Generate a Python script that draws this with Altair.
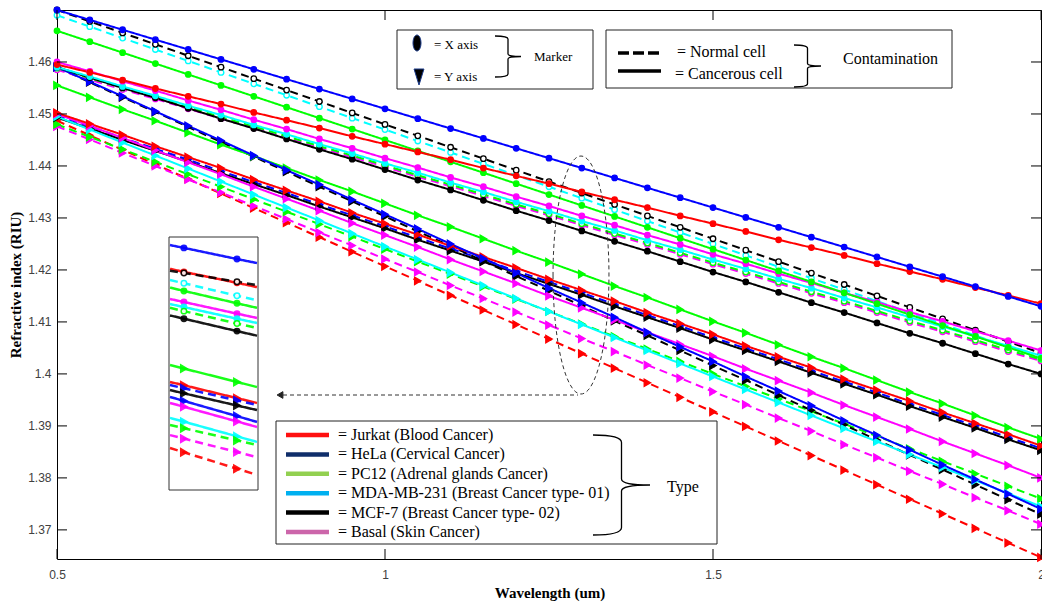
import altair as alt
import pandas as pd

# ---------------- data ----------------
wavelength = [0.5, 0.55, 0.6, 0.65, 0.7, 0.75, 0.8, 0.85, 0.9, 0.95, 1.0, 1.05, 1.1, 1.15, 1.2, 1.25,
              1.3, 1.35, 1.4, 1.45, 1.5, 1.55, 1.6, 1.65, 1.7, 1.75, 1.8, 1.85, 1.9, 1.95, 2.0]

# X-axis (circle markers)
hela_cancer_x = [1.4700, 1.4681, 1.4662, 1.4643, 1.4624, 1.4605, 1.4586, 1.4567, 1.4548, 1.4529, 1.4510,
                 1.4491, 1.4472, 1.4453, 1.4434, 1.4415, 1.4396, 1.4377, 1.4358, 1.4339, 1.4320, 1.4301,
                 1.4282, 1.4263, 1.4244, 1.4225, 1.4206, 1.4187, 1.4168, 1.4149, 1.4130]
mcf7_normal_x = [1.4700, 1.4678, 1.4656, 1.4634, 1.4612, 1.4590, 1.4568, 1.4546, 1.4524, 1.4502, 1.4480,
                 1.4458, 1.4436, 1.4414, 1.4392, 1.4370, 1.4348, 1.4326, 1.4304, 1.4282, 1.4260, 1.4238,
                 1.4216, 1.4194, 1.4172, 1.4150, 1.4128, 1.4106, 1.4084, 1.4062, 1.4040]
mda_normal_x = [1.4690, 1.4668, 1.4646, 1.4624, 1.4602, 1.4580, 1.4558, 1.4536, 1.4514, 1.4492, 1.4470,
                1.4448, 1.4426, 1.4404, 1.4382, 1.4360, 1.4338, 1.4316, 1.4294, 1.4272, 1.4250, 1.4228,
                1.4206, 1.4184, 1.4162, 1.4140, 1.4118, 1.4096, 1.4074, 1.4052, 1.4030]
pc12_cancer_x = [1.4660, 1.4639, 1.4618, 1.4597, 1.4576, 1.4555, 1.4534, 1.4513, 1.4492, 1.4471, 1.4450,
                 1.4429, 1.4408, 1.4387, 1.4366, 1.4345, 1.4324, 1.4303, 1.4282, 1.4261, 1.4240, 1.4219,
                 1.4198, 1.4177, 1.4156, 1.4135, 1.4114, 1.4093, 1.4072, 1.4051, 1.4030]
jurkat_cancer_x = [1.4595, 1.4580, 1.4565, 1.4549, 1.4534, 1.4519, 1.4503, 1.4488, 1.4473, 1.4457, 1.4442,
                   1.4427, 1.4412, 1.4396, 1.4381, 1.4366, 1.4350, 1.4335, 1.4320, 1.4304, 1.4289, 1.4274,
                   1.4258, 1.4243, 1.4228, 1.4212, 1.4197, 1.4182, 1.4166, 1.4151, 1.4135]
basal_cancer_x = [1.4600, 1.4582, 1.4563, 1.4545, 1.4526, 1.4508, 1.4489, 1.4471, 1.4452, 1.4434, 1.4415,
                  1.4397, 1.4378, 1.4360, 1.4341, 1.4323, 1.4304, 1.4286, 1.4267, 1.4249, 1.4230, 1.4212,
                  1.4193, 1.4175, 1.4156, 1.4138, 1.4119, 1.4101, 1.4082, 1.4064, 1.4045]
mda_cancer_x = [1.4590, 1.4572, 1.4553, 1.4535, 1.4516, 1.4498, 1.4479, 1.4461, 1.4442, 1.4424, 1.4405,
                1.4387, 1.4368, 1.4350, 1.4331, 1.4313, 1.4294, 1.4276, 1.4257, 1.4239, 1.4220, 1.4202,
                1.4183, 1.4165, 1.4146, 1.4128, 1.4109, 1.4091, 1.4072, 1.4054, 1.4035]
pc12_normal_x = [1.4588, 1.4569, 1.4550, 1.4532, 1.4513, 1.4494, 1.4476, 1.4457, 1.4438, 1.4420, 1.4401,
                 1.4382, 1.4364, 1.4345, 1.4326, 1.4308, 1.4289, 1.4270, 1.4252, 1.4233, 1.4214, 1.4196,
                 1.4177, 1.4158, 1.4140, 1.4121, 1.4102, 1.4084, 1.4065, 1.4046, 1.4028]
basal_normal_x = [1.4585, 1.4566, 1.4547, 1.4529, 1.4510, 1.4491, 1.4473, 1.4454, 1.4435, 1.4417, 1.4398,
                  1.4379, 1.4361, 1.4342, 1.4323, 1.4305, 1.4286, 1.4267, 1.4249, 1.4230, 1.4211, 1.4193,
                  1.4174, 1.4155, 1.4137, 1.4118, 1.4099, 1.4081, 1.4062, 1.4043, 1.4025]
mcf7_cancer_x = [1.4590, 1.4570, 1.4550, 1.4531, 1.4511, 1.4491, 1.4472, 1.4452, 1.4432, 1.4413, 1.4393,
                 1.4373, 1.4354, 1.4334, 1.4314, 1.4295, 1.4275, 1.4255, 1.4236, 1.4216, 1.4196, 1.4177,
                 1.4157, 1.4137, 1.4118, 1.4098, 1.4078, 1.4059, 1.4039, 1.4019, 1.4000]

# Y-axis (triangle markers)
hela_cancer_y = [1.4590, 1.4562, 1.4534, 1.4505, 1.4477, 1.4449, 1.4420, 1.4392, 1.4364, 1.4335, 1.4307,
                 1.4279, 1.4250, 1.4222, 1.4194, 1.4165, 1.4137, 1.4109, 1.4080, 1.4052, 1.4024, 1.3995,
                 1.3967, 1.3939, 1.3910, 1.3882, 1.3854, 1.3825, 1.3797, 1.3769, 1.3740]
mcf7_normal_y = [1.4590, 1.4561, 1.4532, 1.4504, 1.4475, 1.4446, 1.4418, 1.4389, 1.4360, 1.4332, 1.4303,
                 1.4274, 1.4246, 1.4217, 1.4188, 1.4160, 1.4131, 1.4102, 1.4074, 1.4045, 1.4016, 1.3988,
                 1.3959, 1.3930, 1.3902, 1.3873, 1.3844, 1.3816, 1.3787, 1.3758, 1.3730]
mda_cancer_y = [1.4495, 1.4470, 1.4445, 1.4420, 1.4395, 1.4370, 1.4345, 1.4320, 1.4295, 1.4270, 1.4245,
                1.4220, 1.4195, 1.4170, 1.4145, 1.4120, 1.4095, 1.4070, 1.4045, 1.4020, 1.3995, 1.3970,
                1.3945, 1.3920, 1.3895, 1.3870, 1.3845, 1.3820, 1.3795, 1.3770, 1.3745]
pc12_cancer_y = [1.4555, 1.4532, 1.4509, 1.4487, 1.4464, 1.4441, 1.4419, 1.4396, 1.4373, 1.4351, 1.4328,
                 1.4305, 1.4283, 1.4260, 1.4237, 1.4215, 1.4192, 1.4169, 1.4147, 1.4124, 1.4101, 1.4079,
                 1.4056, 1.4033, 1.4011, 1.3988, 1.3965, 1.3943, 1.3920, 1.3897, 1.3875]
jurkat_cancer_y = [1.4502, 1.4481, 1.4460, 1.4438, 1.4417, 1.4396, 1.4374, 1.4353, 1.4332, 1.4310, 1.4289,
                   1.4268, 1.4246, 1.4225, 1.4204, 1.4182, 1.4161, 1.4140, 1.4118, 1.4097, 1.4076, 1.4054,
                   1.4033, 1.4012, 1.3990, 1.3969, 1.3948, 1.3926, 1.3905, 1.3884, 1.3862]
basal_cancer_y = [1.4500, 1.4477, 1.4454, 1.4430, 1.4407, 1.4384, 1.4360, 1.4337, 1.4314, 1.4290, 1.4267,
                  1.4244, 1.4220, 1.4197, 1.4174, 1.4150, 1.4127, 1.4104, 1.4080, 1.4057, 1.4034, 1.4010,
                  1.3987, 1.3964, 1.3940, 1.3917, 1.3894, 1.3870, 1.3847, 1.3824, 1.3800]
mcf7_cancer_y = [1.4493, 1.4472, 1.4450, 1.4429, 1.4408, 1.4386, 1.4365, 1.4344, 1.4322, 1.4301, 1.4280,
                 1.4258, 1.4237, 1.4216, 1.4194, 1.4173, 1.4152, 1.4130, 1.4109, 1.4088, 1.4066, 1.4045,
                 1.4024, 1.4002, 1.3981, 1.3960, 1.3938, 1.3917, 1.3896, 1.3874, 1.3853]
hela_normal_y = [1.4497, 1.4476, 1.4454, 1.4433, 1.4412, 1.4390, 1.4369, 1.4348, 1.4326, 1.4305, 1.4284,
                 1.4262, 1.4241, 1.4220, 1.4198, 1.4177, 1.4156, 1.4134, 1.4113, 1.4092, 1.4070, 1.4049,
                 1.4028, 1.4006, 1.3985, 1.3964, 1.3942, 1.3921, 1.3900, 1.3878, 1.3857]
pc12_normal_y = [1.4480, 1.4456, 1.4432, 1.4408, 1.4384, 1.4360, 1.4336, 1.4312, 1.4288, 1.4264, 1.4240,
                 1.4216, 1.4192, 1.4168, 1.4144, 1.4120, 1.4096, 1.4072, 1.4048, 1.4024, 1.4000, 1.3976,
                 1.3952, 1.3928, 1.3904, 1.3880, 1.3856, 1.3832, 1.3808, 1.3784, 1.3760]
basal_normal_y = [1.4476, 1.4451, 1.4425, 1.4400, 1.4374, 1.4349, 1.4323, 1.4298, 1.4272, 1.4247, 1.4221,
                  1.4196, 1.4170, 1.4145, 1.4119, 1.4094, 1.4068, 1.4043, 1.4017, 1.3992, 1.3966, 1.3941,
                  1.3915, 1.3890, 1.3864, 1.3839, 1.3813, 1.3788, 1.3762, 1.3737, 1.3711]
jurkat_normal_y = [1.4487, 1.4459, 1.4431, 1.4403, 1.4375, 1.4347, 1.4319, 1.4291, 1.4263, 1.4235, 1.4207,
                   1.4179, 1.4151, 1.4123, 1.4095, 1.4067, 1.4039, 1.4011, 1.3983, 1.3955, 1.3927, 1.3899,
                   1.3871, 1.3843, 1.3815, 1.3787, 1.3759, 1.3731, 1.3703, 1.3675, 1.3647]

x_ticks = [0.5, 1.0, 1.5, 2.0]
y_ticks = [1.37, 1.38, 1.39, 1.40, 1.41, 1.42, 1.43, 1.44, 1.45, 1.46]

# inset (magnified view) : relative positions inside the inset frame
inset_x = [0.0, 0.16, 0.77, 1.0]
inset_lines = [
    ("HeLa cancer X", [0.032, 0.043, 0.087, 0.103]),
    ("Jurkat cancer X", [0.126, 0.138, 0.181, 0.198]),
    ("MCF-7 normal X", [0.133, 0.142, 0.177, 0.190]),
    ("MDA normal X", [0.170, 0.183, 0.232, 0.250]),
    ("PC12 cancer X", [0.200, 0.213, 0.262, 0.280]),
    ("Basal cancer X", [0.245, 0.257, 0.303, 0.320]),
    ("MDA cancer X", [0.265, 0.277, 0.323, 0.340]),
    ("PC12 normal X", [0.280, 0.293, 0.342, 0.360]),
    ("MCF-7 cancer X", [0.310, 0.323, 0.372, 0.390]),
    ("PC12 cancer Y", [0.506, 0.520, 0.573, 0.593]),
    ("Jurkat cancer Y", [0.573, 0.586, 0.637, 0.656]),
    ("HeLa normal Y", [0.585, 0.598, 0.646, 0.664]),
    ("MCF-7 cancer Y", [0.605, 0.618, 0.666, 0.684]),
    ("HeLa cancer Y", [0.632, 0.648, 0.708, 0.731]),
    ("Basal cancer Y", [0.656, 0.671, 0.729, 0.751]),
    ("MDA cancer Y", [0.715, 0.730, 0.788, 0.810]),
    ("PC12 normal Y", [0.743, 0.756, 0.804, 0.822]),
    ("Basal normal Y", [0.783, 0.797, 0.850, 0.870]),
    ("Jurkat normal Y", [0.834, 0.851, 0.916, 0.940]),
]

type_names = ["= Jurkat (Blood Cancer)", "= HeLa (Cervical Cancer)", "= PC12 (Adrenal glands Cancer)",
              "= MDA-MB-231 (Breast Cancer type- 01)", "= MCF-7  (Breast Cancer type- 02)",
              "= Basal (Skin Cancer)"]
type_colors = ["#FF1010", "#102E6A", "#92D050", "#00B0F0", "#000000", "#CC66AA"]

RED, BLUE, GREEN, CYAN, BLACK, MAG = "#FF0000", "#0000FF", "#00FF00", "#00FFFF", "#000000", "#FF00FF"

# (name, colour, line style, marker, values) -- drawing order bottom to top
series = [
    ("Jurkat normal Y", RED, "dashed", "tri", jurkat_normal_y),
    ("Basal normal Y", MAG, "dashed", "tri", basal_normal_y),
    ("PC12 normal Y", GREEN, "dashed", "tri", pc12_normal_y),
    ("HeLa normal Y", BLUE, "dashed", "tri", hela_normal_y),
    ("MCF-7 normal Y", BLACK, "dashed", "tri", mcf7_normal_y),
    ("Basal normal X", MAG, "dashed", "circle", basal_normal_x),
    ("PC12 normal X", GREEN, "dashed", "circle", pc12_normal_x),
    ("MDA normal X", CYAN, "dashed", "circle", mda_normal_x),
    ("MCF-7 normal X", BLACK, "dashed", "circle", mcf7_normal_x),
    ("MCF-7 cancer Y", BLACK, "solid", "tri", mcf7_cancer_y),
    ("MDA cancer Y", CYAN, "solid", "tri", mda_cancer_y),
    ("Basal cancer Y", MAG, "solid", "tri", basal_cancer_y),
    ("Jurkat cancer Y", RED, "solid", "tri", jurkat_cancer_y),
    ("PC12 cancer Y", GREEN, "solid", "tri", pc12_cancer_y),
    ("HeLa cancer Y", BLUE, "solid", "tri", hela_cancer_y),
    ("MCF-7 cancer X", BLACK, "solid", "circle", mcf7_cancer_x),
    ("MDA cancer X", CYAN, "solid", "circle", mda_cancer_x),
    ("Basal cancer X", MAG, "solid", "circle", basal_cancer_x),
    ("PC12 cancer X", GREEN, "solid", "circle", pc12_cancer_x),
    ("Jurkat cancer X", RED, "solid", "circle", jurkat_cancer_x),
    ("HeLa cancer X", BLUE, "solid", "circle", hela_cancer_x),
]

rows = []
meta = {}
for k, (name, col, dash, mk, vals) in enumerate(series):
    fill = "#FFFFFF" if (dash == "dashed" and mk == "circle") else col
    meta[name] = (col, dash, mk, fill)
    for w, v in zip(wavelength, vals):
        rows.append(dict(series=name, z=f"{k:02d}", wl=w, ri=v, color=col, dash=dash, marker=mk, fill=fill))
df = pd.DataFrame(rows)

irows = []
for k, (name, vals) in enumerate(inset_lines):
    col, dash, mk, fill = meta[name]
    for j, (ix, iy) in enumerate(zip(inset_x, vals)):
        irows.append(dict(series=name, z=f"{k:02d}", ix=ix, iy=iy, color=col, dash=dash, marker=mk,
                          fill=fill, show=1 if j in (1, 2) else 0))
idf = pd.DataFrame(irows)

# ---------------- layout ----------------
W, H = 984, 549
xscale = alt.Scale(domain=[0.5, 2.0], nice=False, zero=False)
yscale = alt.Scale(domain=[1.3644, 1.4700], nice=False, zero=False)
dash_scale = alt.Scale(domain=["solid", "dashed"], range=[[1, 0], [8, 5]])
shape_scale = alt.Scale(domain=["circle", "tri"], range=["circle", "triangle-right"])
size_scale = alt.Scale(domain=["circle", "tri"], range=[30, 55])

TICKFONT = "Liberation Sans"
SERIF = "Liberation Serif"

xaxis = alt.Axis(values=x_ticks, format="~g", ticks=False, tickSize=0, domain=False, grid=False,
                 labelPadding=10, labelFont=TICKFONT, labelFontSize=12, labelColor="#404040",
                 labelFlush=False, labelOverlap=False, title=None)
yaxis = alt.Axis(values=y_ticks, format=".2~f", ticks=False, tickSize=0, domain=False, grid=False,
                 labelPadding=6, labelFont=TICKFONT, labelFontSize=12, labelColor="#404040",
                 labelFlush=False, labelOverlap=False, title=None)

lines = alt.Chart(df).mark_line(strokeWidth=2, clip=True).encode(
    x=alt.X("wl:Q", scale=xscale, axis=xaxis),
    y=alt.Y("ri:Q", scale=yscale, axis=yaxis),
    detail="z:N",
    stroke=alt.Stroke("color:N", scale=None),
    strokeDash=alt.StrokeDash("dash:N", scale=dash_scale, legend=None),
    order="wl:Q",
)

points = alt.Chart(df).mark_point(filled=True, opacity=1, strokeWidth=1.3).encode(
    x=alt.X("wl:Q", scale=xscale, axis=None),
    y=alt.Y("ri:Q", scale=yscale, axis=None),
    shape=alt.Shape("marker:N", scale=shape_scale, legend=None),
    size=alt.Size("marker:N", scale=size_scale, legend=None),
    stroke=alt.Stroke("color:N", scale=None),
    fill=alt.Fill("fill:N", scale=None),
)

xt = pd.DataFrame({"v": x_ticks})
yt = pd.DataFrame({"v": y_ticks})
tick_b = alt.Chart(xt).mark_rule(color="black", strokeWidth=1).encode(
    x=alt.X("v:Q", scale=xscale, axis=None), y=alt.value(H), y2=alt.value(H - 10))
tick_t = alt.Chart(xt).mark_rule(color="black", strokeWidth=1).encode(
    x=alt.X("v:Q", scale=xscale, axis=None), y=alt.value(0), y2=alt.value(10))
tick_l = alt.Chart(yt).mark_rule(color="black", strokeWidth=1).encode(
    y=alt.Y("v:Q", scale=yscale, axis=None), x=alt.value(0), x2=alt.value(10))
tick_r = alt.Chart(yt).mark_rule(color="black", strokeWidth=1).encode(
    y=alt.Y("v:Q", scale=yscale, axis=None), x=alt.value(W), x2=alt.value(W - 10))

one = pd.DataFrame({"a": [0]})


def box(x0, x1, y0, y1, stroke="#222222"):
    return alt.Chart(one).mark_rect(fill="white", stroke=stroke, strokeWidth=1).encode(
        x=alt.value(x0), x2=alt.value(x1), y=alt.value(y0), y2=alt.value(y1))


def text(t, x, y, size, align="left", weight="normal", angle=0, font=SERIF, color="black"):
    return alt.Chart(pd.DataFrame({"t": [t]})).mark_text(
        align=align, baseline="middle", fontSize=size, font=font, fontWeight=weight,
        angle=angle, color=color).encode(text="t:N", x=alt.value(x), y=alt.value(y))


def hline(x0, x1, y, color="black", width=3.5, dash=None):
    kw = dict(color=color, strokeWidth=width)
    if dash:
        kw["strokeDash"] = dash
    return alt.Chart(one).mark_rule(**kw).encode(x=alt.value(x0), x2=alt.value(x1), y=alt.value(y))


def symbol(path, x, y, size, fill=None, stroke="black", sw=1.2, dash=None):
    kw = dict(shape=path, size=size, stroke=stroke, strokeWidth=sw, opacity=1)
    if fill is None:
        kw["filled"] = False
    else:
        kw["filled"] = True
        kw["fill"] = fill
    if dash:
        kw["strokeDash"] = dash
    return alt.Chart(one).mark_point(**kw).encode(x=alt.value(x), y=alt.value(y))


def brace(x, y, w, h):
    a = round(w / h, 3)
    p = (f"M {-a},-1 Q 0,-1 0,-0.85 L 0,-0.12 Q 0,0 {a},0 Q 0,0 0,0.12 "
         f"L 0,0.85 Q 0,1 {-a},1")
    return symbol(p, x, y, h * h, None, "black", 1.3)


# inset
ix_scale = alt.Scale(domain=[0, 1], range=[113, 200])
iy_scale = alt.Scale(domain=[0, 1], range=[227, 480])
inset_box = box(112, 201, 227, 480, "#333333")
inset_l = alt.Chart(idf).mark_line(strokeWidth=2.5, opacity=0.9).encode(
    x=alt.X("ix:Q", scale=ix_scale, axis=None),
    y=alt.Y("iy:Q", scale=iy_scale, axis=None),
    detail="z:N",
    stroke=alt.Stroke("color:N", scale=None),
    strokeDash=alt.StrokeDash("dash:N", scale=alt.Scale(domain=["solid", "dashed"], range=[[1, 0], [10, 8]]),
                              legend=None),
    order="ix:Q",
)
inset_p = alt.Chart(idf).transform_filter("datum.show == 1").mark_point(filled=True, opacity=0.9,
                                                                         strokeWidth=1.5).encode(
    x=alt.X("ix:Q", scale=ix_scale, axis=None),
    y=alt.Y("iy:Q", scale=iy_scale, axis=None),
    shape=alt.Shape("marker:N", scale=shape_scale, legend=None),
    size=alt.Size("marker:N", scale=alt.Scale(domain=["circle", "tri"], range=[60, 110]), legend=None),
    stroke=alt.Stroke("color:N", scale=None),
    fill=alt.Fill("fill:N", scale=None),
)

# dashed ellipse + arrow
ell = symbol("M -0.235,0 A 0.235,1 0 1,0 0.235,0 A 0.235,1 0 1,0 -0.235,0 Z", 524, 265, 238 * 238,
             None, "#333333", 1, [4, 3])
arrow_line = hline(226, 521, 385, "#333333", 1, [4, 3])
arrow_head = symbol("triangle-left", 223, 385, 45, "#222222", "#222222", 1)

# legends
marker_box = box(340, 536, 20, 79)
mk_ell = symbol("M -0.5,0 A 0.5,1 0 1,0 0.5,0 A 0.5,1 0 1,0 -0.5,0 Z", 360, 33, 256, "black", "#1a3a8a", 1)
mk_tri = symbol("M -0.62,-1 L 0.62,-1 L 0,1 Z", 362, 67, 256, "black", "#1a3a8a", 1)
mk_t1 = text("= X axis", 377, 35, 13)
mk_t2 = text("=  Y axis", 377, 67, 13)
mk_br = brace(451, 46.5, 26, 41)
mk_lab = text("Marker", 477, 47, 13)

cont_box = box(549, 895, 20, 78)
c_dash = hline(561, 604, 43, "black", 3.5, [11, 4])
c_solid = hline(561, 604, 61, "black", 3.5)
c_t1 = text("= Normal cell", 620, 42, 16)
c_t2 = text("=  Cancerous cell", 618, 64, 16)
c_br = brace(750.5, 56, 27, 42)
c_lab = text("Contamination", 786, 49, 16)

type_box = box(219, 660, 411, 534)
type_layers = []
for i, (nm, col) in enumerate(zip(type_names, type_colors)):
    yy = 425 + i * 19.4
    type_layers.append(hline(229, 272, yy, col, 4.5))
    type_layers.append(text(nm, 281, yy, 16))
t_br = brace(564.5, 475, 57, 100)
t_lab = text("Type", 610, 477, 16)

x_title = text("Wavelength (um)", 493, 583, 15, "center", "bold")
y_title = text("Refractive index (RIU)", -41, 275, 15, "center", "bold", 270)

layers = [lines, points, tick_b, tick_t, tick_l, tick_r,
          inset_box, inset_l, inset_p, ell, arrow_line, arrow_head,
          marker_box, mk_ell, mk_tri, mk_t1, mk_t2, mk_br, mk_lab,
          cont_box, c_dash, c_solid, c_t1, c_t2, c_br, c_lab,
          type_box] + type_layers + [t_br, t_lab, x_title, y_title]

chart = alt.layer(*layers).resolve_scale(
    x="independent", y="independent"
).properties(
    width=W, height=H,
    padding={"left": 57, "top": 10, "right": 1, "bottom": 47},
    autosize=alt.AutoSizeParams(type="none"),
    background="white",
).configure_view(stroke="black", strokeWidth=1)

chart.save("out.html", embed_options={"renderer": "svg", "actions": False})
